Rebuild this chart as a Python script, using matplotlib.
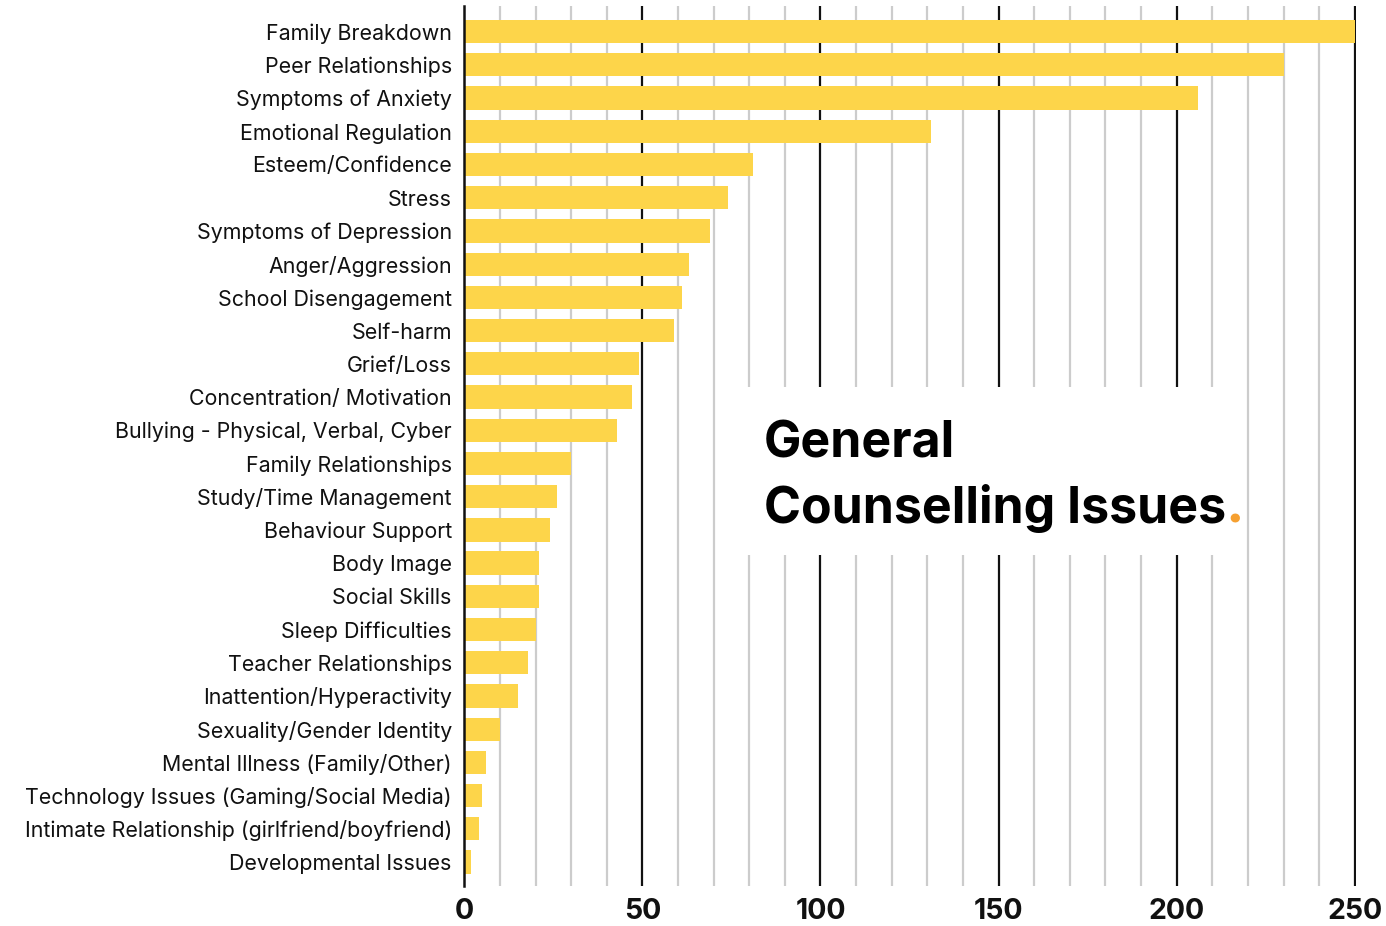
import matplotlib
matplotlib.use("Agg")
import matplotlib.pyplot as plt
from matplotlib.patches import Rectangle
from matplotlib.offsetbox import TextArea, HPacker, VPacker, AnnotationBbox

plt.rcParams['font.family'] = ['Inter', 'DejaVu Sans']

# counselling issues, most frequent first
issues = [
    "Family Breakdown", "Peer Relationships", "Symptoms of Anxiety",
    "Emotional Regulation", "Esteem/Confidence", "Stress",
    "Symptoms of Depression", "Anger/Aggression", "School Disengagement",
    "Self-harm", "Grief/Loss", "Concentration/ Motivation",
    "Bullying - Physical, Verbal, Cyber", "Family Relationships",
    "Study/Time Management", "Behaviour Support", "Body Image",
    "Social Skills", "Sleep Difficulties", "Teacher Relationships",
    "Inattention/Hyperactivity", "Sexuality/Gender Identity",
    "Mental Illness (Family/Other)", "Technology Issues (Gaming/Social Media)",
    "Intimate Relationship (girlfriend/boyfriend)", "Developmental Issues",
]
counts = [250, 230, 206, 131, 81, 74, 69, 63, 61, 59, 49, 47, 43, 30,
          26, 24, 21, 21, 20, 18, 15, 10, 6, 5, 4, 2]
ticks = [0, 50, 100, 150, 200, 250]

BAR = "#FDD54A"
DOT = "#F6A030"

fig = plt.figure(figsize=(13.86, 9.26), dpi=100)
ax = fig.add_axes([0.335, 0.0432, 0.9785 - 0.335, 0.9935 - 0.0432])

pos = list(range(len(issues)))
ax.barh(pos, counts, height=0.7, color=BAR, zorder=2)

ax.set_ylim(len(issues) - 1 + 0.72, -0.77)
ax.set_xlim(0, 250.4)

# grid: light lines every 10, black lines every 50
for v in range(10, 251, 10):
    if v % 50 == 0:
        ax.axvline(v, color="#111111", lw=1.6, zorder=0.5)
    else:
        ax.axvline(v, color="#cccccc", lw=1.6, zorder=0.4)

# white panel behind the title
ax.add_patch(Rectangle((78.5, 10.7), 217.5 - 78.5, 15.75 - 10.7,
                       facecolor="white", edgecolor="none", zorder=1))

for s in ["top", "right", "bottom"]:
    ax.spines[s].set_visible(False)
ax.spines["left"].set_linewidth(1.8)
ax.spines["left"].set_color("#111111")

ax.set_yticks(pos)
ax.set_yticklabels(issues, fontsize=15.4, color="#111111")
ax.set_xticks(ticks)
ax.set_xticklabels([str(t) for t in ticks], fontsize=20.5, fontweight="bold",
                   color="#111111")
ax.tick_params(axis="both", length=0)
ax.tick_params(axis="y", pad=9)
ax.tick_params(axis="x", pad=9)

# title, with an orange full stop
tprops = dict(fontsize=36, fontweight="bold", color="#000000")
line1 = TextArea("General", textprops=tprops)
line2 = HPacker(children=[TextArea("Counselling Issues", textprops=tprops),
                          TextArea(".", textprops={**tprops, "color": DOT,
                                                   "fontsize": 40})],
                align="baseline", pad=0, sep=0)
title = VPacker(children=[line1, line2], align="left", pad=0, sep=10)
ab = AnnotationBbox(title, (84.0, 11.72), xycoords="data",
                    box_alignment=(0, 1), frameon=False, zorder=3)
ax.add_artist(ab)

fig.savefig("out.png", dpi=100, facecolor="white")
